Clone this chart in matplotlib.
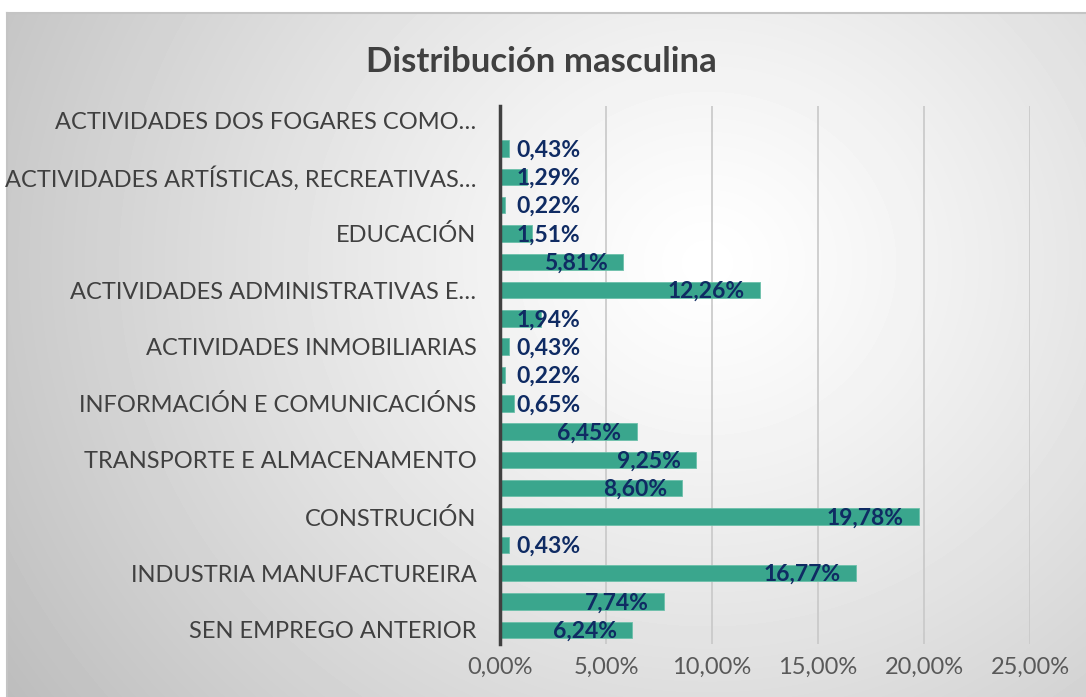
import matplotlib.pyplot as plt
import numpy as np

# categories from bottom to top; Excel only shows every other label
CATEGORIES = [
    'SEN EMPREGO ANTERIOR',
    'AGRICULTURA, GANDARÍA, SILVICULTURA E PESCA',
    'INDUSTRIA MANUFACTUREIRA',
    'SUBMINISTRACIÓN DE AUGA',
    'CONSTRUCIÓN',
    'COMERCIO POR XUNTO E RETALLO',
    'TRANSPORTE E ALMACENAMENTO',
    'HOSTALARÍA',
    'INFORMACIÓN E COMUNICACIÓNS',
    'ACTIVIDADES FINANCEIRAS E DE SEGUROS',
    'ACTIVIDADES INMOBILIARIAS',
    'ACTIVIDADES PROFESIONAIS, CIENTÍFICAS E TÉCNICAS',
    'ACTIVIDADES ADMINISTRATIVAS E…',
    'ADMINISTRACIÓN PÚBLICA E DEFENSA',
    'EDUCACIÓN',
    'ACTIVIDADES SANITARIAS E DE SERVIZOS SOCIAIS',
    'ACTIVIDADES ARTÍSTICAS, RECREATIVAS…',
    'OUTROS SERVIZOS',
    'ACTIVIDADES DOS FOGARES COMO…',
]

VALUES = [6.24, 7.74, 16.77, 0.43, 19.78, 8.60, 9.25, 6.45, 0.65, 0.22,
          0.43, 1.94, 12.26, 5.81, 1.51, 0.22, 1.29, 0.43, None]

X_TICKS = [0, 5, 10, 15, 20, 25]

TITLE = 'Distribución masculina'

BAR_COLOUR = '#3aa68d'
LABEL_COLOUR = '#0f2b63'
TEXT_COLOUR = '#404040'

W, H = 1086, 697

plt.rcParams['font.family'] = ['Lato', 'DejaVu Sans']


def fmt(v):
    return f'{v:.2f}%'.replace('.', ',')


def draw_background(fig):
    bg = fig.add_axes([7 / W, 0, 1 - 7 / W, 1 - 13 / H], zorder=0)
    ny, nx = 684, 1079
    yy, xx = np.mgrid[0:ny, 0:nx]
    r = np.hypot(xx - 700, (yy - 250) * 1.1)
    r = r / r.max()
    shade = 1.0 - 0.26 * np.clip(r, 0, 1) ** 1.2
    bg.imshow(shade, cmap='gray', vmin=0, vmax=1, aspect='auto',
              extent=(0, 1, 0, 1), interpolation='bilinear')
    bg.set_xlim(0, 1)
    bg.set_ylim(0, 1)
    bg.set_xticks([])
    bg.set_yticks([])
    for side, sp in bg.spines.items():
        sp.set_visible(side in ('left', 'top'))
        sp.set_color('#c4c4c4')
        sp.set_linewidth(1.5)


def main():
    fig = plt.figure(figsize=(W / 100, H / 100), dpi=100)
    draw_background(fig)

    ax = fig.add_axes([500 / W, 1 - 644 / H, 530 / W, 538 / H], zorder=1)
    ax.set_facecolor('none')

    y = np.arange(len(CATEGORIES))
    vals = [v if v is not None else 0 for v in VALUES]
    ax.barh(y, vals, height=0.58, color=BAR_COLOUR, edgecolor='#6cc0aa',
            linewidth=0.6, zorder=2)

    for yi, v in zip(y, VALUES):
        if v is None:
            continue
        if v < 4.75:
            ax.annotate(fmt(v), (0, yi), xytext=(12, -1), textcoords='offset points',
                        ha='left', va='center', fontsize=16.5, fontweight='bold',
                        color=LABEL_COLOUR, zorder=3)
        else:
            ax.annotate(fmt(v), (v, yi), xytext=(-11, -1), textcoords='offset points',
                        ha='right', va='center', fontsize=16.5, fontweight='bold',
                        color=LABEL_COLOUR, zorder=3)

    ax.set_xlim(0, 25)
    ax.set_ylim(-0.5, len(CATEGORIES) - 0.5)
    ax.set_xticks(X_TICKS)
    ax.set_xticklabels([fmt(t) for t in X_TICKS], fontsize=17, color='#595959')
    ax.set_yticks(y[::2])
    ax.set_yticklabels(CATEGORIES[::2], fontsize=17, color=TEXT_COLOUR)
    ax.tick_params(axis='both', length=0)
    ax.tick_params(axis='x', pad=9)
    ax.tick_params(axis='y', pad=17)

    ax.grid(axis='x', color='#c8c8c8', linewidth=1.2, zorder=1)
    ax.set_axisbelow(True)
    for side in ('top', 'right', 'bottom'):
        ax.spines[side].set_visible(False)
    ax.spines['left'].set_color('#404040')
    ax.spines['left'].set_linewidth(2.5)
    ax.spines['left'].set_zorder(4)

    fig.text(541 / W, 1 - 62 / H, TITLE, ha='center', va='center',
             fontsize=25, fontweight='bold', color=TEXT_COLOUR)

    fig.savefig('out.png', dpi=100)


if __name__ == '__main__':
    main()
